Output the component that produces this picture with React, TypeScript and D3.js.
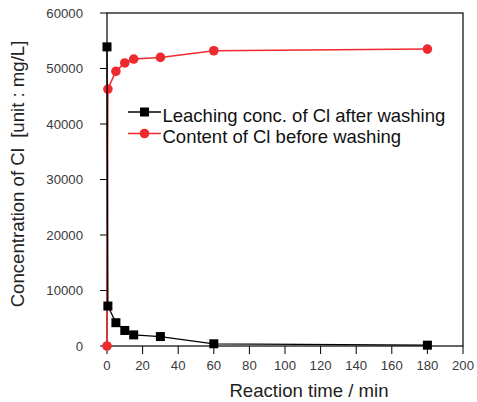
import React from "react";
import * as d3 from "d3";

// Leaching concentration of Cl after washing (mg/L) vs reaction time (min)
const leachTime = [0, 0.5, 5, 10, 15, 30, 60, 180];
const leachConc = [53900, 7200, 4200, 2800, 2000, 1700, 400, 150];

// Content of Cl before washing (mg/L) vs reaction time (min)
const contentTime = [0, 0.5, 5, 10, 15, 30, 60, 180];
const contentConc = [0, 46300, 49500, 51000, 51700, 52000, 53200, 53500];

const xTicks = [0, 20, 40, 60, 80, 100, 120, 140, 160, 180, 200];
const yTicks = [0, 10000, 20000, 30000, 40000, 50000, 60000];

const seriesNames = ["Leaching conc. of Cl after washing", "Content of Cl before washing"];

const W = 477;
const H = 402;
const left = 107;
const right = 463;
const top = 13;
const bottom = 346;

const RED = "#ee2a2e";
const TICK_COLOR = "#3a3a3a";
const FONT = "'Liberation Sans', Arial, sans-serif";

export default function App() {
  const x = d3.scaleLinear().domain([0, 200]).range([left, right]);
  const y = d3.scaleLinear().domain([0, 60000]).range([bottom, top]);

  const line = d3
    .line<[number, number]>()
    .x((d) => x(d[0]))
    .y((d) => y(d[1]));

  const leach: [number, number][] = leachTime.map((t, i) => [t, leachConc[i]]);
  const content: [number, number][] = contentTime.map((t, i) => [t, contentConc[i]]);

  return (
    <svg
      width={W}
      height={H}
      style={{ position: "absolute", left: 0, top: 0, background: "#fff" }}
      fontFamily={FONT}
    >
      {/* plot frame */}
      <rect
        x={left}
        y={top}
        width={right - left}
        height={bottom - top}
        fill="none"
        stroke="#000"
        strokeWidth={1.2}
      />

      {/* y ticks */}
      {yTicks.map((v) => (
        <g key={"y" + v}>
          <line x1={left - 7} x2={left} y1={y(v)} y2={y(v)} stroke="#000" strokeWidth={1} />
          <text x={83} y={y(v) + 4.7} textAnchor="end" fontSize={13.2} fill={TICK_COLOR}>
            {v}
          </text>
        </g>
      ))}

      {/* x ticks */}
      {xTicks.map((v) => (
        <g key={"x" + v}>
          <line x1={x(v)} x2={x(v)} y1={bottom} y2={bottom + 8} stroke="#000" strokeWidth={1} />
          <text x={x(v)} y={bottom + 24} textAnchor="middle" fontSize={13.2} fill={TICK_COLOR}>
            {v}
          </text>
        </g>
      ))}

      {/* axis titles */}
      <text x={309} y={397} textAnchor="middle" fontSize={18.6} fill="#222">
        Reaction time / min
      </text>
      <text
        transform={`translate(24,${174}) rotate(-90)`}
        textAnchor="middle"
        fontSize={18.6}
        fill="#222"
        style={{ whiteSpace: "pre" }}
      >
        {"Concentration of Cl  [unit : mg/L]"}
      </text>

      {/* content series (red) */}
      <path d={line(content) ?? ""} fill="none" stroke={RED} strokeWidth={1.5} />
      {content.map((d, i) => (
        <circle key={"c" + i} cx={x(d[0])} cy={y(d[1])} r={4.8} fill={RED} />
      ))}

      {/* leaching series (black) */}
      <path d={line(leach) ?? ""} fill="none" stroke="#000" strokeWidth={1.3} />
      {leach.map((d, i) => (
        <rect key={"l" + i} x={x(d[0]) - 4.5} y={y(d[1]) - 4.5} width={9} height={9} fill="#000" />
      ))}

      {/* legend */}
      <g>
        <line x1={128} x2={161} y1={112} y2={112} stroke="#000" strokeWidth={1.3} />
        <rect x={140} y={107.5} width={9} height={9} fill="#000" />
        <text x={162.5} y={121.5} fontSize={18.5} fill="#111">
          {seriesNames[0]}
        </text>
        <line x1={128} x2={161} y1={133.5} y2={133.5} stroke={RED} strokeWidth={1.5} />
        <circle cx={144.5} cy={133.5} r={4.8} fill={RED} />
        <text x={162.5} y={142.5} fontSize={18.5} fill="#111">
          {seriesNames[1]}
        </text>
      </g>
    </svg>
  );
}
